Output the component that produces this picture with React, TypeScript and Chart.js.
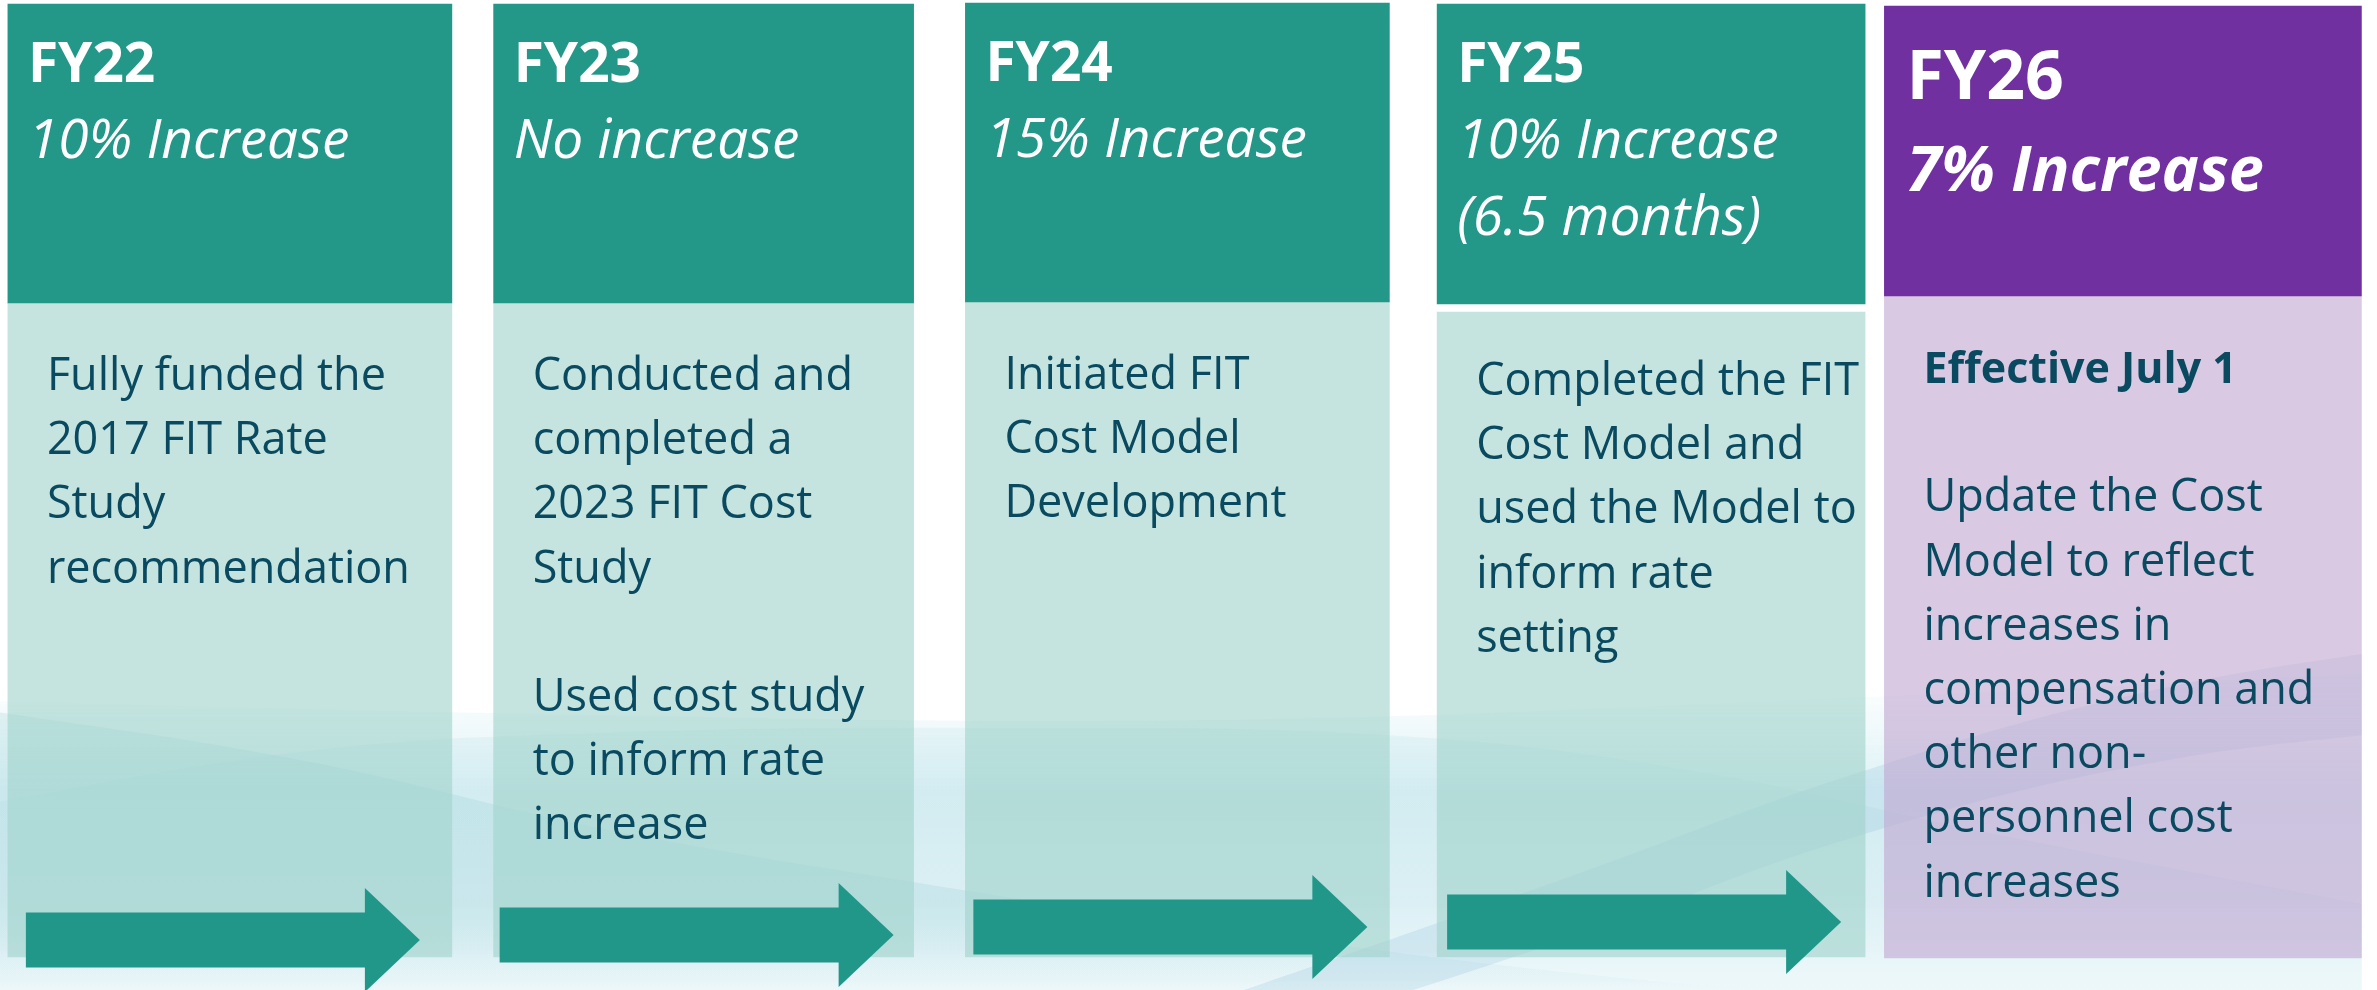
import React, { useEffect, useRef } from 'react';
import { Chart, registerables } from 'chart.js';

Chart.register(...registerables);

// ---------- data ----------
const years = ['FY22', 'FY23', 'FY24', 'FY25', 'FY26'];
const increaseLines = [
  ['10% Increase'],
  ['No increase'],
  ['15% Increase'],
  ['10% Increase', '(6.5 months)'],
  ['7% Increase'],
];
const noteLines = [
  ['Fully funded the', '2017 FIT Rate', 'Study', 'recommendation'],
  ['Conducted and', 'completed a', '2023 FIT Cost', 'Study', '', 'Used cost study', 'to inform rate', 'increase'],
  ['Initiated FIT', 'Cost Model', 'Development'],
  ['Completed the FIT', 'Cost Model and', 'used the Model to', 'inform rate', 'setting'],
  ['Effective July 1', '', 'Update the Cost', 'Model to reflect', 'increases in', 'compensation and', 'other non-', 'personnel cost', 'increases'],
];
const boldFirstNote = [false, false, false, false, true];
const headerSpans = [[4, 303], [4, 303], [3, 302], [4, 304], [6, 296]];
const bodySpans = [[303, 957], [303, 957], [302, 957], [312, 957], [296, 958]];
const arrowLevels = [940, 935, 927, 922];

// decorative background waves (x, y in the page's units)
const glowX = [-50, 600, 1200, 1800, 2450];
const glowTop = [700, 715, 720, 700, 670];
const waveAX = [-50, 300, 600, 900, 1300, 1700, 2100, 2450];
const waveATop = [705, 760, 828, 880, 940, 985, 1010, 1020];
const waveBX = [-50, 300, 600, 1000, 1400, 1700, 2000, 2450];
const waveBTop = [810, 752, 733, 728, 736, 772, 835, 920];
const waveCX = [1100, 1580, 1845, 2141, 2450];
const waveCTop = [1040, 873, 777, 693, 640];
const waveCBot = [1090, 935, 840, 765, 725];

// ---------- styles ----------
const TEAL = '#239888';
const PURPLE = '#7030A0';
const TEXT = '#0A4A60';
const headerColors = [TEAL, TEAL, TEAL, TEAL, PURPLE];
const bodyColors = [
  'rgba(158,210,202,0.6)',
  'rgba(158,210,202,0.6)',
  'rgba(158,210,202,0.6)',
  'rgba(158,210,202,0.6)',
  'rgba(192,165,208,0.6)',
];
const colWidths = [444, 420, 424, 428, 481];
const SHIFT = 7; // canvas starts this far left of the page edge
const CANVAS_W = 2377 + SHIFT;
const PAD_R = 15.25;
const FONT = '"Open Sans", "Noto Sans", sans-serif';

const zip = (xs: number[], ys: number[]) => xs.map((x, i) => ({ x, y: ys[i] }));

const timelinePlugin = {
  id: 'timelineText',
  afterDatasetsDraw(chart: any) {
    const ctx = chart.ctx as CanvasRenderingContext2D;
    const xs = chart.scales.x;
    const ys = chart.scales.y;
    ctx.save();
    // arrows
    arrowLevels.forEach((lvl, i) => {
      const cx = xs.getPixelForValue(i);
      const tip = cx + 190;
      const cy = ys.getPixelForValue(lvl);
      const tail = tip - 394;
      const neck = tip - 55;
      ctx.beginPath();
      ctx.moveTo(tail, cy - 27.5);
      ctx.lineTo(neck, cy - 27.5);
      ctx.lineTo(neck, cy - 52);
      ctx.lineTo(tip, cy);
      ctx.lineTo(neck, cy + 52);
      ctx.lineTo(neck, cy + 27.5);
      ctx.lineTo(tail, cy + 27.5);
      ctx.closePath();
      ctx.fillStyle = '#21978A';
      ctx.fill();
    });
    ctx.textAlign = 'left';
    ctx.textBaseline = 'alphabetic';
    years.forEach((yr, i) => {
      const hel = chart.getDatasetMeta(i).data[i];
      const bel = chart.getDatasetMeta(5 + i).data[i];
      if (!hel || !bel) return;
      const hLeft = hel.x - hel.width / 2;
      const hTop = Math.min(hel.y, hel.base);
      const last = i === 4;
      ctx.fillStyle = '#FFFFFF';
      ctx.font = `bold ${last ? 68 : 55}px ${FONT}`;
      ctx.fillText(yr, hLeft + (last ? 22 : 20), hTop + (last ? 93 : 78));
      increaseLines[i].forEach((ln, k) => {
        ctx.font = last ? `italic bold 63px ${FONT}` : `italic 55px ${FONT}`;
        ctx.fillText(ln, hLeft + (last ? 22 : 20), hTop + (last ? 185 : 154) + k * 77);
      });
      const bLeft = bel.x - bel.width / 2;
      const bTop = Math.min(bel.y, bel.base);
      ctx.fillStyle = TEXT;
      noteLines[i].forEach((ln, k) => {
        if (!ln) return;
        const bold = boldFirstNote[i] && k === 0;
        ctx.font = `${bold ? 'bold ' : ''}${bold ? 43 : 45}px ${FONT}`;
        ctx.fillText(ln, bLeft + 39, bTop + (i === 3 ? 83 : 87) + k * 64.2);
      });
    });
    ctx.restore();
  },
};

export default function App() {
  const ref = useRef<HTMLCanvasElement | null>(null);
  useEffect(() => {
    document.body.style.margin = '0';
    document.body.style.background = '#FFFFFF';
    document.body.style.overflow = 'hidden';
    const canvas = ref.current;
    if (!canvas) return;
    const oneAt = (i: number, v: any) => years.map((_, j) => (j === i ? v : null));
    const headerSets = years.map((_, i) => ({
      type: 'bar' as const,
      data: oneAt(i, headerSpans[i]),
      backgroundColor: headerColors[i],
      borderWidth: 0,
      grouped: false,
      barThickness: colWidths[i],
      order: 1,
    }));
    const bodySets = years.map((_, i) => ({
      type: 'bar' as const,
      data: oneAt(i, bodySpans[i]),
      backgroundColor: bodyColors[i],
      borderWidth: 0,
      grouped: false,
      barThickness: colWidths[i],
      order: 2,
    }));
    const vGrad = (stops: [number, string][]) => (c: any) => {
      const { ctx, chartArea } = c.chart;
      if (!chartArea) return stops[stops.length - 1][1];
      const ys = c.chart.scales.y;
      const g = ctx.createLinearGradient(0, ys.getPixelForValue(600), 0, ys.getPixelForValue(990));
      stops.forEach(([v, col]) => g.addColorStop((v - 600) / 390, col));
      return g;
    };
    const wave = (pts: any[], color: any, fill: any, order: number) => ({
      type: 'line' as const,
      xAxisID: 'xw',
      data: pts,
      borderWidth: 0,
      borderColor: 'rgba(0,0,0,0)',
      backgroundColor: color || 'rgba(0,0,0,0)',
      pointRadius: 0,
      tension: 0.4,
      fill,
      clip: false as any,
      order,
    });
    const waveSets = [
      wave(
        zip(glowX, glowTop),
        vGrad([[600, 'rgba(222,242,246,0)'], [700, 'rgba(222,242,246,0.2)'], [790, 'rgba(218,240,245,0.95)'], [990, 'rgba(236,247,250,0.95)']]),
        { value: 990 },
        20,
      ),
      wave(
        zip(waveBX, waveBTop),
        vGrad([[600, 'rgba(150,208,218,0.13)'], [900, 'rgba(150,208,218,0.13)'], [975, 'rgba(150,208,218,0)'], [990, 'rgba(150,208,218,0)']]),
        { value: 990 },
        16,
      ),
      wave(
        zip(waveAX, waveATop),
        vGrad([[600, 'rgba(130,198,204,0.2)'], [920, 'rgba(130,198,204,0.2)'], [980, 'rgba(130,198,204,0.05)'], [990, 'rgba(130,198,204,0)']]),
        { value: 990 },
        15,
      ),
      wave(zip(waveCX, waveCTop), 'rgba(125,182,212,0.2)', '+1', 14),
      wave(zip(waveCX, waveCBot), undefined, false, 14),
    ];
    const chart = new Chart(canvas, {
      type: 'bar',
      data: {
        labels: years,
        datasets: [...headerSets, ...bodySets, ...waveSets] as any,
      },
      options: {
        animation: false,
        responsive: false,
        devicePixelRatio: 1,
        layout: { padding: { left: 0, right: PAD_R, top: 0, bottom: 0 } },
        scales: {
          x: { type: 'category', display: false, offset: true },
          xw: { type: 'linear', display: false, offset: false, min: -SHIFT, max: CANVAS_W - SHIFT - PAD_R },
          y: { type: 'linear', display: false, reverse: true, min: 0, max: 990 },
        },
        plugins: {
          legend: { display: false },
          tooltip: { enabled: false },
          filler: { propagate: false },
        },
      },
      plugins: [timelinePlugin],
    });
    return () => chart.destroy();
  }, []);
  return (
    <div style={{ width: 2377, height: 990, overflow: 'hidden', position: 'relative' }}>
      <canvas
        ref={ref}
        width={CANVAS_W}
        height={990}
        style={{ display: 'block', position: 'absolute', left: -SHIFT, top: 0 }}
      />
    </div>
  );
}
